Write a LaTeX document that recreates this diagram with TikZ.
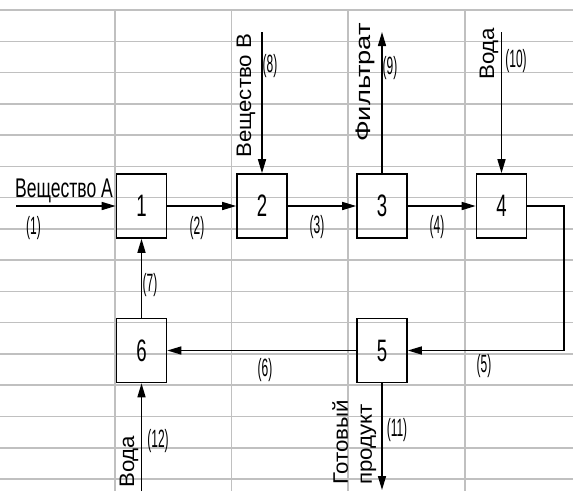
\documentclass[tikz,border=0pt]{standalone}
\usepackage{fontspec}
\setmainfont{Liberation Sans}
\newfontfamily\fwide[FakeStretch=0.65]{Liberation Sans}
\newfontfamily\fnum[FakeStretch=0.6]{Liberation Sans}
\newfontfamily\fpar[FakeStretch=0.48]{Liberation Sans}
\newfontfamily\frot[FakeStretch=1.06]{Liberation Sans}
\newfontfamily\frotw[FakeStretch=1.3]{Liberation Sans}
\usetikzlibrary{arrows.meta}
\definecolor{gridc}{RGB}{192,192,192}
\tikzset{
  gridline/.style={draw=gridc, line width=1.5pt},
  stepbox/.style={draw, line width=1.6pt, minimum width=50pt, minimum height=64pt, inner sep=0pt, font=\fnum\fontsize{31}{33}\selectfont},
  flow/.style={line width=1.5pt, -{Triangle[length=14pt,width=8pt]}},
  lab/.style={inner sep=0pt, font=\fpar\fontsize{25}{27}\selectfont},
  biglab/.style={inner sep=0pt, font=\fwide\fontsize{27}{29}\selectfont},
  rlab/.style={inner sep=0pt, rotate=90, align=left, font=\frot\fontsize{21}{24}\selectfont}
}
\begin{document}
\begin{tikzpicture}[x=1pt,y=-1pt]
\useasboundingbox (0,0) rectangle (573,491);
\fill[white] (0,0) rectangle (573,491);
% grid
\foreach \i in {0,...,15}
  \draw[gridline] (0,10+31.27*\i) -- (573,10+31.27*\i);
\foreach \x in {115,231.5,348,465}
  \draw[gridline] (\x,10) -- (\x,491);

% boxes
\node[stepbox] (b1) at (141.5,206) {1};
\node[stepbox] (b2) at (262,206) {2};
\node[stepbox] (b3) at (382,206) {3};
\node[stepbox] (b4) at (501.5,206) {4};
\node[stepbox] (b5) at (382,350.5) {5};
\node[stepbox] (b6) at (141.5,350.5) {6};

% free ends
\coordinate (inA) at (16,206);
\coordinate (inB) at (262,32);
\coordinate (outF) at (382,32);
\coordinate (inW1) at (501.5,32);
\coordinate (c1) at (564,206);
\coordinate (c2) at (564,350.5);
\coordinate (outP) at (382,490);
\coordinate (inW2) at (141.5,491);

% connectors
\draw[flow] (inA) -- (b1.west);
\draw[flow] (b1.east) -- (b2.west);
\draw[flow] (b2.east) -- (b3.west);
\draw[flow] (b3.east) -- (b4.west);
\draw[flow] (b4.east) -- (c1) -- (c2) -- (b5.east);
\draw[flow] (b5.west) -- (b6.east);
\draw[flow] (b6.north) -- (b1.south);
\draw[flow] (inW2) -- (b6.south);
\draw[flow] (inB) -- (b2.north);
\draw[flow] (b3.north) -- (outF);
\draw[flow] (inW1) -- (b4.north);
\draw[flow] (b5.south) -- (outP);

% labels
\node[biglab, anchor=base west] (tA) at (15,197) {Вещество А};
\node[lab] (l1) at (33.5,228) {(1)};
\node[lab] (l2) at (197,228) {(2)};
\node[lab] (l3) at (317,227) {(3)};
\node[lab] (l4) at (437,227) {(4)};
\node[lab] (l5) at (484,366) {(5)};
\node[lab] (l6) at (265,370) {(6)};
\node[lab] (l7) at (150,285) {(7)};
\node[lab] (l8) at (270,66) {(8)};
\node[lab] (l9) at (390,68) {(9)};
\node[lab] (l10) at (516,61) {(10)};
\node[lab] (l11) at (397,430) {(11)};
\node[lab] (l12) at (158,441) {(12)};

\node[rlab, anchor=base west] (tB) at (251,158) {Вещество В};
\node[rlab, anchor=base west, font=\frotw\fontsize{21}{24}\selectfont] (tF) at (370,142) {Фильтрат};
\node[rlab, anchor=base west] (tW1) at (494,80) {Вода};
\node[rlab, anchor=base west] (tW2) at (134,488) {Вода};
\node[rlab, anchor=north west] (tP) at (332,485) {Готовый\\продукт};
\end{tikzpicture}
\end{document}
